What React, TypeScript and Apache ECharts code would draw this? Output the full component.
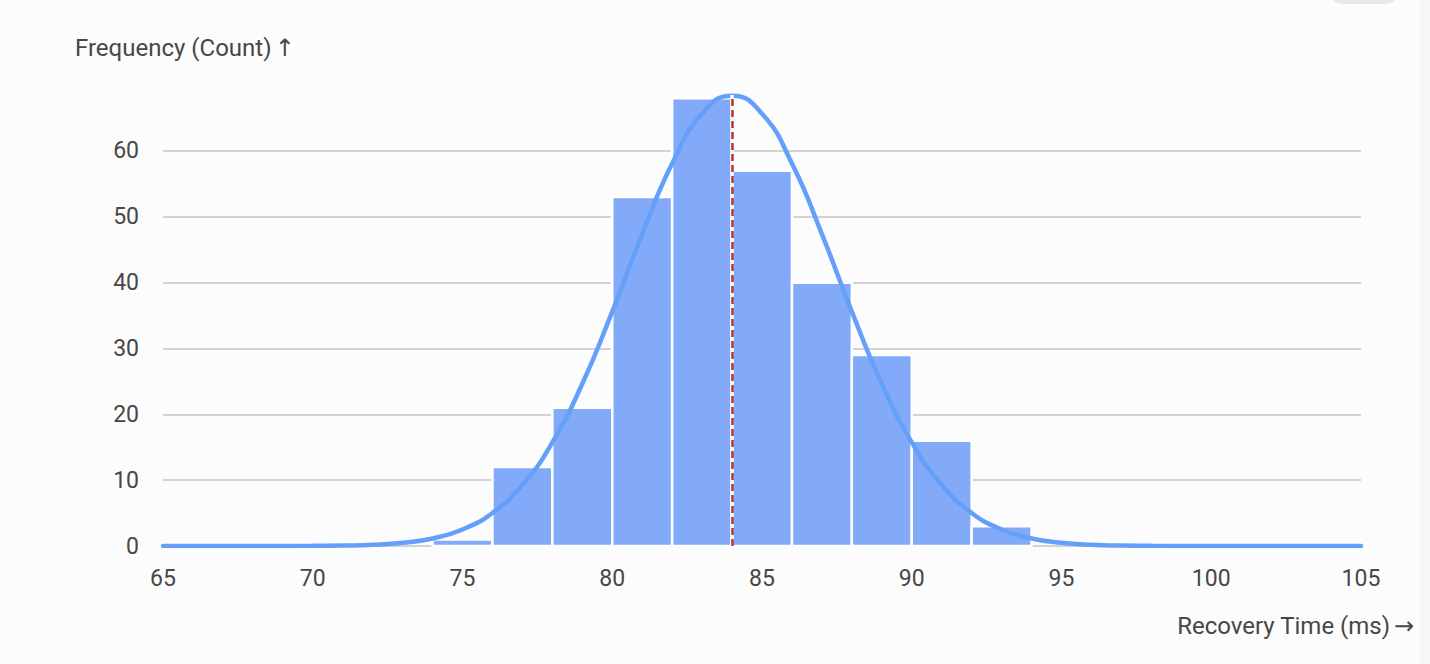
import { useEffect, useRef } from 'react'
import * as echarts from 'echarts'

// histogram bins (ms) and counts
const binStarts = [74, 76, 78, 80, 82, 84, 86, 88, 90, 92]
const binWidth = 2
const counts = [1, 12, 21, 53, 68, 57, 40, 29, 16, 3]

// fitted curve at each ms (65 … 105)
const curveX = [65, 66, 67, 68, 69, 70, 71, 72, 73, 74, 75, 76, 77, 78, 79, 80, 81, 82, 83, 84, 85, 86, 87, 88, 89, 90, 91, 92, 93, 94, 95, 96, 97, 98, 99, 100, 101, 102, 103, 104, 105]
const curveY = [
  0, 0, 0, 0, 0.01, 0.02, 0.07, 0.19, 0.49, 1.15,
  2.51, 5.02, 9.26, 15.74, 24.65, 35.59, 47.37, 58.09, 65.66, 68.39,
  65.66, 58.09, 47.37, 35.59, 24.65, 15.74, 9.26, 5.02, 2.51, 1.15,
  0.49, 0.19, 0.07, 0.02, 0.01, 0, 0, 0, 0, 0, 0,
]

const meanX = 84
const xTicks = [65, 105, 5]
const yTicks = [0, 68.5, 10]

const FONT = 'Roboto, "Open Sans", sans-serif'
const TEXT = '#474747'

export default function App() {
  const elRef = useRef<HTMLDivElement>(null)

  useEffect(() => {
    if (!elRef.current) return
    const chart = echarts.init(elRef.current, undefined, { renderer: 'svg' })

    const bins = binStarts.map((s, i) => [s, s + binWidth, counts[i]])
    const curve = curveX.map((x, i) => [x, curveY[i]])
    const nameRich = {
      t: { fontSize: 24, fontFamily: FONT, fill: TEXT },
      a: { fontSize: 24, fontFamily: '"DejaVu Sans"', fill: TEXT },
    }

    chart.setOption({
      animation: false,
      backgroundColor: '#fcfcfc',
      textStyle: { fontFamily: FONT },
      grid: { left: 163, right: 69, top: 95, bottom: 118 },
      xAxis: {
        type: 'value',
        min: xTicks[0],
        max: xTicks[1],
        interval: xTicks[2],
        axisLine: { show: false },
        axisTick: { show: false },
        splitLine: { show: false },
        axisLabel: { color: TEXT, fontSize: 23, margin: 21, fontFamily: FONT },
      },
      yAxis: {
        type: 'value',
        min: yTicks[0],
        max: yTicks[1],
        interval: yTicks[2],
        axisLine: { show: false },
        axisTick: { show: false },
        splitLine: { showMaxLine: false, lineStyle: { color: '#c6c6c6', width: 1.5 } },
        axisLabel: { color: TEXT, fontSize: 23, margin: 24, fontFamily: FONT, showMaxLabel: false },
      },
      graphic: [
        { type: 'rect', right: 0, top: 0, shape: { width: 10, height: 664 }, style: { fill: '#f6f6f6' }, silent: true },
        { type: 'rect', left: 1330, top: -20, shape: { width: 68, height: 24, r: 12 }, style: { fill: '#e9e9e9' }, silent: true },
        {
          type: 'text',
          left: 75,
          top: 36,
          style: { text: '{t|Frequency (Count)} {a|↑}', fill: TEXT, rich: nameRich },
        },
        {
          type: 'text',
          right: 16,
          top: 614,
          style: { text: '{t|Recovery Time (ms)} {a|→}', fill: TEXT, rich: nameRich },
        },
      ],
      series: [
        {
          type: 'custom',
          data: bins,
          z: 2,
          renderItem: (params: any, api: any) => {
            const p0 = api.coord([api.value(0), api.value(2)])
            const p1 = api.coord([api.value(1), 0])
            return {
              type: 'rect',
              shape: { x: p0[0], y: p0[1], width: p1[0] - p0[0], height: p1[1] - p0[1] },
              style: { fill: '#82aaf8', stroke: '#ffffff', lineWidth: 2.5 },
            }
          },
        },
        {
          type: 'line',
          data: curve,
          smooth: true,
          showSymbol: false,
          z: 3,
          lineStyle: { color: '#64a0fa', width: 4.5, cap: 'round' },
        },
        {
          type: 'line',
          data: [],
          z: 4,
          markLine: {
            silent: true,
            symbol: 'none',
            label: { show: false },
            data: [
              { xAxis: meanX, lineStyle: { color: '#ffffff', type: 'solid', width: 3.5 } },
              { xAxis: meanX, lineStyle: { color: '#b3352b', type: [7, 4], width: 2.5 } },
            ],
          },
        },
      ],
    })

    return () => chart.dispose()
  }, [])

  return (
    <>
      <style>{'body{margin:0;background:#fcfcfc}'}</style>
      <div ref={elRef} style={{ width: 1430, height: 664 }} />
    </>
  )
}
